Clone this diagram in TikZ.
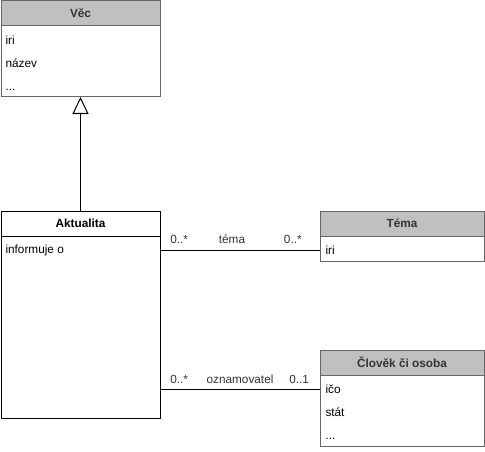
\documentclass[tikz,border=0pt]{standalone}
\usepackage{fontspec}
\setmainfont{Liberation Sans}
\usetikzlibrary{arrows.meta}
\definecolor{hdrgray}{HTML}{C0C0C0}
\definecolor{bordgray}{HTML}{666666}
\definecolor{txtgray}{HTML}{333333}

\begin{document}
\begin{tikzpicture}[x=1pt, y=-1pt, line width=1pt,
    hdr/.style={draw=bordgray, fill=hdrgray, minimum width=159pt, minimum height=25pt, anchor=north west, inner sep=0pt, outer sep=0pt, font=\bfseries, text=txtgray},
    body/.style={draw=bordgray, fill=white, minimum width=159pt, anchor=north west, inner sep=0pt, outer sep=0pt},
    attr/.style={anchor=west, inner sep=0pt, text=black},
    lbl/.style={inner sep=0pt, text=txtgray}]
    \useasboundingbox (0,0) rectangle (485,452);
    \fontsize{11.8}{13}\selectfont
    % Věc
    \node[hdr] (vec) at (1,1) {Věc};
    \node[body, minimum height=71pt] (vecbody) at (vec.south west) {};
    \node[attr] (veciri) at (5,40) {iri};
    \node[attr] (vecnazev) at (5,63) {název};
    \node[attr] (vecdots) at (5,90) {...};
    % Aktualita
    \node[hdr, draw=black, fill=white, text=black] (akt) at (1,211) {Aktualita};
    \node[body, draw=black, minimum height=182pt] (aktbody) at (akt.south west) {};
    \node[attr] (aktinf) at (5,250) {informuje o};
    % Téma
    \node[hdr, minimum width=164pt] (tema) at (320,211) {Téma};
    \node[body, minimum width=164pt, minimum height=25pt] (temabody) at (tema.south west) {};
    \node[attr] (temairi) at (325,250) {iri};
    % Člověk či osoba
    \node[hdr, minimum width=164pt] (clov) at (320,350) {Člověk či osoba};
    \node[body, minimum width=164pt, minimum height=71pt] (clovbody) at (clov.south west) {};
    \node[attr] (clovico) at (325,389) {ičo};
    \node[attr] (clovstat) at (325,412) {stát};
    \node[attr] (clovdots) at (325,439) {...};
    % Generalization
    \draw[-{Triangle[open, length=17pt, width=16pt]}] (akt.north) -- (vecbody.south);
    % Associations
    \draw (aktbody.east |- temairi) -- (temabody.west |- temairi)
        node[lbl, pos=0.12, above=6pt] {0..*}
        node[lbl, pos=0.45, above=6pt] {téma}
        node[lbl, pos=0.83, above=6pt] {0..*};
    \draw (aktbody.east |- clovico) -- (clovbody.west |- clovico)
        node[lbl, pos=0.12, above=5pt] {0..*}
        node[lbl, pos=0.5, above=5pt] {oznamovatel}
        node[lbl, pos=0.87, above=5pt] {0..1};
\end{tikzpicture}
\end{document}
